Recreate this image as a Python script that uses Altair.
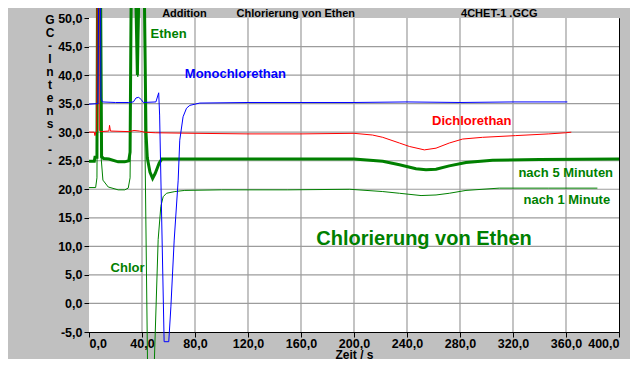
import altair as alt
import pandas as pd

# ---- axis ticks ----
x_ticks = [0, 40, 80, 120, 160, 200, 240, 280, 320, 360, 400]
y_ticks = [-5, 0, 5, 10, 15, 20, 25, 30, 35, 40, 45, 50]

# ---- series (time in s, GC intensity) ----
mono_t = [0, 6.8, 7.5, 8.6, 9.0, 10.0, 20.0, 30.0, 33.5, 35.5, 37.5, 39.5, 41.0, 50.5,
          52.6, 53.3, 56.7, 60.2, 61.8, 64.3, 67.3, 68.5, 71.0, 73.6, 76.1, 83.6,
          120, 160, 200, 240, 280, 320, 361]
mono_v = [34.9, 35.0, 65, 65, 36.0, 35.3, 35.2, 35.2, 35.3, 36.0, 36.1, 35.7, 35.2, 35.3,
          36.9, 33.0, -6.7, -6.7, -0.6, 11.1, 21.6, 28.6, 32.7, 34.2, 34.7, 35.1,
          35.2, 35.2, 35.2, 35.3, 35.2, 35.3, 35.3]

dichlor_t = [0, 4.0, 4.5, 5.0, 5.8, 6.3, 7.3, 7.8, 9.0, 15.0, 15.5, 16.2, 30.0, 34.0,
             38.0, 42.0, 50.0, 80, 120, 160, 200, 214, 221.7, 234.3, 241.8, 253.1,
             261.9, 271.9, 282.0, 297.0, 322.0, 347.0, 359.8, 364.0]
dichlor_v = [30.0, 30.0, 29.4, 30.0, 30.1, 70, 70, 30.3, 30.1, 30.2, 31.2, 30.2, 30.1, 30.3,
             30.2, 30.0, 29.9, 29.8, 29.7, 29.7, 29.8, 29.5, 29.1, 28.1, 27.5, 26.9,
             27.2, 28.1, 28.8, 29.1, 29.4, 29.7, 29.9, 30.0]

five_t = [0, 4.0, 4.5, 6.0, 6.5, 8.6, 9.5, 11.0, 15.0, 22.0, 27.0, 30.0, 31.0, 32.0,
          34.8, 36.5, 38.0, 41.5, 43.0, 44.0, 46.0, 48.0, 50.0, 53.0, 55.0, 80, 120,
          160, 200, 221.7, 234.3, 246.8, 254.3, 261.9, 271.9, 284.5, 304.6, 340, 400]
five_v = [24.9, 24.9, 25.6, 25.6, 60, 60, 25.7, 25.4, 25.3, 24.8, 24.8, 25.0, 26.5, 60,
          60, 40, 60, 60, 30, 25.5, 23.0, 21.9, 22.8, 24.6, 25.3, 25.3, 25.3,
          25.3, 25.3, 24.9, 24.3, 23.6, 23.4, 23.5, 24.1, 24.7, 25.1, 25.2, 25.3]

one_t = [0, 5.0, 6.0, 6.8, 8.0, 9.0, 10.5, 14.5, 22.0, 27.0, 29.6, 31.0, 32.5, 35.0,
         36.8, 38.3, 41.5, 42.2, 44.2, 45.5, 47.5, 49.2, 52.2, 54.2, 56.0, 58.5, 64.8,
         72.3, 100, 150, 196.8, 221.7, 234.3, 250.6, 261.9, 271.9, 284.5, 309.6, 347, 383.7]
one_v = [20.3, 20.3, 22.0, 60, 60, 26.0, 21.6, 20.4, 19.9, 19.9, 20.2, 22.0, 60, 60,
         39.7, 60, 60, 28.6, -11.0, -14.0, -14.0, -11.0, 11.2, 17.0, 18.7, 19.3, 19.6,
         19.8, 19.9, 19.9, 20.0, 19.6, 19.3, 18.9, 19.0, 19.3, 19.8, 20.2, 20.2, 20.2]

# ---- annotations ----
ann_text = ["Addition", "Chlorierung von Ethen", "4CHET-1 .GCG",
            "Ethen", "Monochlorethan", "Dichlorethan", "nach 5 Minuten",
            "nach 1 Minute", "Chlor", "Chlorierung von Ethen"]
ann_t = [55.2, 111.3, 280.8, 46.5, 72.3, 258.9, 324.1, 327.9, 16.3, 171.5]
ann_v = [50.2, 50.2, 50.2, 46.44, 39.44, 31.26, 22.2, 17.37, 5.56, 10.24]
ann_color = ["#000000", "#000000", "#000000", "#008000", "#0000ff", "#ff0000",
             "#008000", "#008000", "#008000", "#008000"]
ann_size = [11, 11, 11, 13, 13, 13, 13, 13, 13, 20]

y_title = ["G", "C", "-", "I", "n", "t", "e", "n", "s", "-", " ", "-", " ", "-"]

FONT = "Liberation Sans"
GRID = "#9c9c9c"
num_expr = "(datum.value < 0 ? '-' : '') + replace(format(abs(datum.value), '.1f'), '.', ',')"

xscale = alt.Scale(domain=[0, 400], nice=False, zero=False)
yscale = alt.Scale(domain=[-5, 50], nice=False, zero=False)

xaxis = alt.Axis(values=x_ticks, labelExpr=num_expr, title="Zeit / s", grid=False,
                 labelOverlap=False,
                 titleFont=FONT, titleFontSize=12, titleFontWeight="bold",
                 titleBaseline="alphabetic", titleY=26, titleColor="black",
                 tickSize=5, labelPadding=0)
yaxis = alt.Axis(values=y_ticks, labelExpr=num_expr, title=y_title, grid=False,
                 labelOverlap=False,
                 titleFont=FONT, titleFontSize=12, titleFontWeight="bold",
                 titleAngle=0, titleAlign="center", titleBaseline="alphabetic",
                 titleX=-39.5, titleY=5, titleLineHeight=13, titleColor="black",
                 tickSize=5, labelPadding=2)


def X(field):
    return alt.X(field, type="quantitative", scale=xscale, axis=xaxis)


def Y(field):
    return alt.Y(field, type="quantitative", scale=yscale, axis=yaxis)


# ---- white plot area and grid lines, from the tick arrays through the scales ----
area_df = pd.DataFrame({"t0": [x_ticks[0]], "t1": [x_ticks[-1]],
                        "v0": [y_ticks[0]], "v1": [y_ticks[-1]]})
plot_bg = alt.Chart(area_df).mark_rect(color="white", opacity=1).encode(
    x=X("t0"), x2="t1", y=Y("v0"), y2="v1")

xgrid_df = pd.DataFrame({"t": x_ticks[1:-1]})
xgrid_df["v0"] = y_ticks[0]
xgrid_df["v1"] = y_ticks[-1]
ygrid_df = pd.DataFrame({"v": y_ticks[1:-1]})
ygrid_df["t0"] = x_ticks[0]
ygrid_df["t1"] = x_ticks[-1]

xgrid = alt.Chart(xgrid_df).mark_rule(
    stroke=GRID, strokeWidth=1.2, strokeOpacity=1
).encode(x=X("t"), y=Y("v0"), y2="v1")
ygrid = alt.Chart(ygrid_df).mark_rule(
    stroke=GRID, strokeWidth=1.2, strokeOpacity=1
).encode(y=Y("v"), x=X("t0"), x2="t1")


def series(ts, vs):
    return pd.DataFrame({"t": ts, "v": vs, "i": list(range(len(ts)))})


def line_layer(ts, vs, color, width):
    return alt.Chart(series(ts, vs)).mark_line(
        color=color, strokeWidth=width, clip=False, strokeJoin="miter"
    ).encode(x=X("t"), y=Y("v"), order=alt.Order("i:Q"))


one = line_layer(one_t, one_v, "#008000", 1)
five = line_layer(five_t, five_v, "#008000", 3)
dichlor = line_layer(dichlor_t, dichlor_v, "#ff0000", 1)
mono = line_layer(mono_t, mono_v, "#0000ff", 1)

ann_df = pd.DataFrame({"label": ann_text, "t": ann_t, "v": ann_v,
                       "c": ann_color, "s": ann_size})
texts = alt.Chart(ann_df).mark_text(
    align="left", baseline="alphabetic", font=FONT, fontWeight="bold", clip=False
).encode(
    x=X("t"), y=Y("v"),
    text="label:N",
    color=alt.Color("c:N", scale=None),
    size=alt.Size("s:Q", scale=None),
)

chart = alt.layer(plot_bg, xgrid, ygrid, one, five, dichlor, mono, texts).properties(
    width=530, height=314,
    autosize=alt.AutoSizeParams(type="none"),
    padding={"left": 81, "top": 10, "right": 11, "bottom": 27},
    background="#c0c0c0",
).configure_view(
    stroke="black", strokeWidth=1
).configure_axis(
    domainColor="black", domainWidth=1, tickColor="black", tickWidth=1,
    labelFont=FONT, labelFontSize=12.5, labelFontWeight="bold", labelColor="black",
)

chart.save("out.html", embed_options={"renderer": "svg", "actions": False})
